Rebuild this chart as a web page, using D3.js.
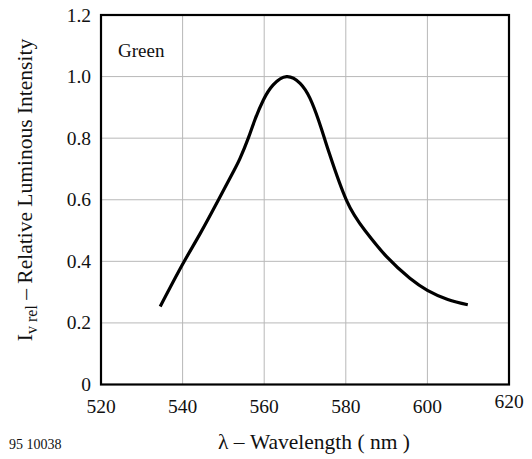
<!DOCTYPE html>
<html>
<head>
<meta charset="utf-8">
<script src="https://cdn.jsdelivr.net/npm/d3@7"></script>
<style>
  body { margin: 0; background: #fff; }
</style>
</head>
<body>
<svg id="chart" width="532" height="459"></svg>
<script>
const wavelength = [534.5, 539.9, 544.3, 548.8, 552.4, 554.1, 556.1, 557.7, 559.8, 562.2, 565.5, 568.8, 571.2, 573.3, 574.9, 576.1, 580.2, 584.7, 590.0, 595.7, 600.0, 605.0, 609.9];
const intensity  = [0.253, 0.388, 0.490, 0.600, 0.690, 0.735, 0.800, 0.859, 0.924, 0.973, 1.0, 0.978, 0.930, 0.859, 0.794, 0.745, 0.597, 0.500, 0.415, 0.345, 0.306, 0.276, 0.259];
const xTicks = [520, 540, 560, 580, 600, 620];
const yTicks = [0, 0.2, 0.4, 0.6, 0.8, 1.0, 1.2];
const yTickLabels = ["0", "0.2", "0.4", "0.6", "0.8", "1.0", "1.2"];
const seriesLabel = "Green";
const xTitle = "λ – Wavelength ( nm )";
const figId = "95 10038";

// pick an installed serif font
function pickFont(cands) {
  const c = document.createElement("canvas").getContext("2d");
  const sample = "Wavelength 0.123 Relative";
  c.font = "20px monospace"; const wm = c.measureText(sample).width;
  c.font = "20px sans-serif"; const ws = c.measureText(sample).width;
  for (const f of cands) {
    c.font = `20px "${f}", monospace`; const a = c.measureText(sample).width;
    c.font = `20px "${f}", sans-serif`; const b = c.measureText(sample).width;
    if (a !== wm || b !== ws) return f;
  }
  return "serif";
}
const ff = pickFont(["Liberation Serif", "Times New Roman", "Tinos", "Nimbus Roman", "Times", "DejaVu Serif", "Noto Serif"]);

const svg = d3.select("#chart").attr("font-family", ff);
const m = { left: 101, right: 509, top: 15, bottom: 384.5 };
const x = d3.scaleLinear().domain([520, 620]).range([m.left, m.right]);
const y = d3.scaleLinear().domain([0, 1.2]).range([m.bottom, m.top]);

// grid
const grid = svg.append("g");
grid.selectAll("line.v").data(xTicks.slice(1, -1)).join("line")
  .attr("x1", d => x(d)).attr("x2", d => x(d))
  .attr("y1", m.top).attr("y2", m.bottom)
  .attr("stroke", "#b8b8b8").attr("stroke-width", 1);
grid.selectAll("line.h").data(yTicks.slice(1, -1)).join("line")
  .attr("y1", d => y(d)).attr("y2", d => y(d))
  .attr("x1", m.left).attr("x2", m.right)
  .attr("stroke", "#b8b8b8").attr("stroke-width", 1);

// curve
const pts = wavelength.map((w, i) => [w, intensity[i]]);
svg.append("path")
  .datum(pts)
  .attr("d", d3.line().x(d => x(d[0])).y(d => y(d[1])).curve(d3.curveNatural))
  .attr("fill", "none").attr("stroke", "#000").attr("stroke-width", 3.2)
  .attr("stroke-linecap", "butt");

// frame
svg.append("rect")
  .attr("x", m.left).attr("y", m.top)
  .attr("width", m.right - m.left).attr("height", m.bottom - m.top)
  .attr("fill", "none").attr("stroke", "#000").attr("stroke-width", 2.2);

// y tick labels
svg.append("g").selectAll("text").data(yTicks).join("text")
  .attr("x", 91).attr("y", d => y(d) + 6.5)
  .attr("text-anchor", "end").attr("font-size", 19.5).attr("fill", "#111")
  .text((d, i) => yTickLabels[i]);

// x tick labels
svg.append("g").selectAll("text").data(xTicks).join("text")
  .attr("x", d => x(d)).attr("y", d => d === 620 ? 408 : 413)
  .attr("text-anchor", "middle").attr("font-size", 19.5).attr("fill", "#111")
  .text(d => d);

// series label
svg.append("text").attr("x", 118).attr("y", 57).attr("font-size", 19).attr("fill", "#111").text(seriesLabel);

// x title
svg.append("text").attr("x", 314).attr("y", 449).attr("text-anchor", "middle")
  .attr("font-size", 21.5).attr("fill", "#111").text(xTitle);

// y title
const yt = svg.append("text")
  .attr("transform", "translate(32,190) rotate(-90)")
  .attr("text-anchor", "middle").attr("font-size", 21.5).attr("fill", "#111");
yt.append("tspan").text("I");
yt.append("tspan").attr("font-size", 16).attr("dy", 5).text("v rel");
yt.append("tspan").attr("dy", -5).text("  – Relative Luminous Intensity");

// figure id
svg.append("text").attr("x", 9).attr("y", 449).attr("font-size", 14).attr("fill", "#111").text(figId);
</script>
</body>
</html>
